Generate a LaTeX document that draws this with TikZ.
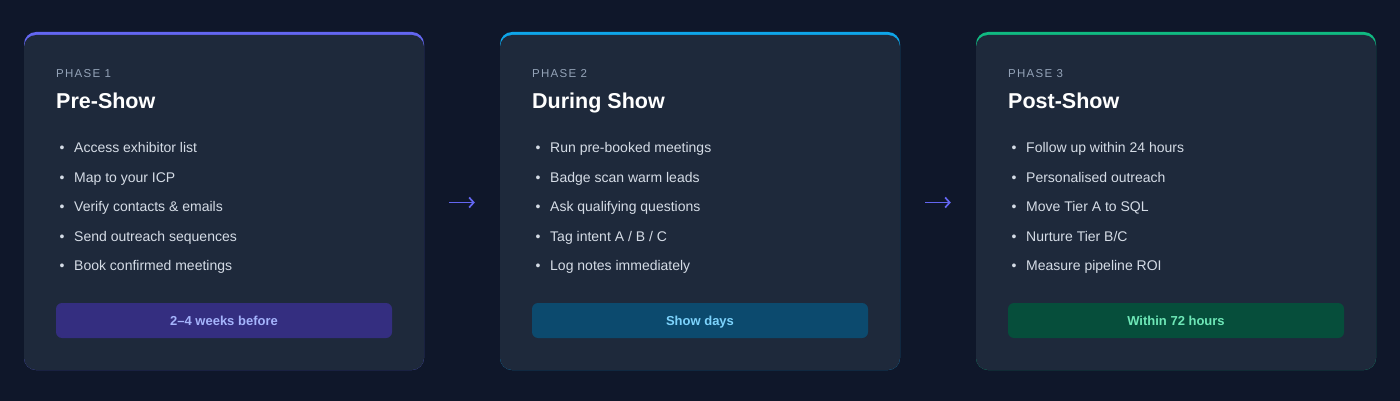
\documentclass[tikz,border=0pt]{standalone}
\usepackage{fontspec}
\setmainfont{Liberation Sans}
\newfontfamily\phasefont[LetterSpace=11]{Liberation Sans}
\usetikzlibrary{arrows.meta}
\definecolor{bgC}{HTML}{0F172A}
\definecolor{cardC}{HTML}{1E293B}
\definecolor{phaseC}{HTML}{94A3B8}
\definecolor{itemC}{HTML}{D5DCE6}
\definecolor{indigoC}{HTML}{6366F1}
\definecolor{skyC}{HTML}{0EA5E9}
\definecolor{emeraldC}{HTML}{10B981}
\definecolor{badgeAbg}{HTML}{342E80}
\definecolor{badgeAfg}{HTML}{A5B4FC}
\definecolor{badgeBbg}{HTML}{0C4A6E}
\definecolor{badgeBfg}{HTML}{7DD3FC}
\definecolor{badgeCbg}{HTML}{064E3B}
\definecolor{badgeCfg}{HTML}{6EE7B7}
\begin{document}
\begin{tikzpicture}[x=1pt,y=-1pt,
  cardtop/.style={rounded corners=12pt, minimum width=400pt, minimum height=338pt, inner sep=0pt, draw=none},
  cardbody/.style={fill=cardC, rounded corners=12pt, minimum width=400pt, minimum height=335pt, inner sep=0pt, draw=none},
  phaselbl/.style={anchor=base west, inner sep=0pt, text=phaseC, font=\phasefont\fontsize{11.5}{13}\selectfont},
  titlelbl/.style={anchor=base west, inner sep=0pt, text=white, font=\bfseries\fontsize{21.5}{26}\selectfont},
  itemlbl/.style={anchor=base west, inner sep=0pt, text=itemC, font=\fontsize{14}{17}\selectfont},
  dotlbl/.style={anchor=base, inner sep=0pt, text=itemC, font=\fontsize{14}{17}\selectfont},
  badge/.style={rounded corners=6pt, minimum width=336pt, minimum height=35pt, inner sep=0pt, text height=9.4pt, text depth=0pt, font=\bfseries\fontsize{13}{15}\selectfont},
  flow/.style={draw=indigoC, line width=1.7pt, -{Straight Barb[length=4.5pt,width=10pt,line width=1.7pt]}, shorten <=25pt, shorten >=25pt}
]
\fill[bgC] (0,0) rectangle (1400,401);
\useasboundingbox (0,0) rectangle (1400,401);

% cards
\foreach \cx/\col/\nm in {224/indigoC/a, 700/skyC/b, 1176/emeraldC/c}{
  \node[cardtop, fill=\col] (top\nm) at (\cx,201) {};
  \node[cardbody] (card\nm) at (\cx,202.5) {};
}

% card 1
\node[phaselbl] (pa) at (56,78) {PHASE 1};
\node[titlelbl] (ta) at (56,108.5) {Pre-Show};
\node[dotlbl] (da1) at (62,153) {•};
\node[itemlbl] (ia1) at (74,153) {Access exhibitor list};
\node[dotlbl] (da2) at (62,182.3) {•};
\node[itemlbl] (ia2) at (74,182.3) {Map to your ICP};
\node[dotlbl] (da3) at (62,211.6) {•};
\node[itemlbl] (ia3) at (74,211.6) {Verify contacts \& emails};
\node[dotlbl] (da4) at (62,241) {•};
\node[itemlbl] (ia4) at (74,241) {Send outreach sequences};
\node[dotlbl] (da5) at (62,270.3) {•};
\node[itemlbl] (ia5) at (74,270.3) {Book confirmed meetings};
\node[badge, fill=badgeAbg, text=badgeAfg] (ba) at (224,320.5) {2–4 weeks before};

% card 2
\node[phaselbl] (pb) at (532,78) {PHASE 2};
\node[titlelbl] (tb) at (532,108.5) {During Show};
\node[dotlbl] (db1) at (538,153) {•};
\node[itemlbl] (ib1) at (550,153) {Run pre-booked meetings};
\node[dotlbl] (db2) at (538,182.3) {•};
\node[itemlbl] (ib2) at (550,182.3) {Badge scan warm leads};
\node[dotlbl] (db3) at (538,211.6) {•};
\node[itemlbl] (ib3) at (550,211.6) {Ask qualifying questions};
\node[dotlbl] (db4) at (538,241) {•};
\node[itemlbl] (ib4) at (550,241) {Tag intent A / B / C};
\node[dotlbl] (db5) at (538,270.3) {•};
\node[itemlbl] (ib5) at (550,270.3) {Log notes immediately};
\node[badge, fill=badgeBbg, text=badgeBfg] (bb) at (700,320.5) {Show days};

% card 3
\node[phaselbl] (pc) at (1008,78) {PHASE 3};
\node[titlelbl] (tc) at (1008,108.5) {Post-Show};
\node[dotlbl] (dc1) at (1014,153) {•};
\node[itemlbl] (ic1) at (1026,153) {Follow up within 24 hours};
\node[dotlbl] (dc2) at (1014,182.3) {•};
\node[itemlbl] (ic2) at (1026,182.3) {Personalised outreach};
\node[dotlbl] (dc3) at (1014,211.6) {•};
\node[itemlbl] (ic3) at (1026,211.6) {Move Tier A to SQL};
\node[dotlbl] (dc4) at (1014,241) {•};
\node[itemlbl] (ic4) at (1026,241) {Nurture Tier B/C};
\node[dotlbl] (dc5) at (1014,270.3) {•};
\node[itemlbl] (ic5) at (1026,270.3) {Measure pipeline ROI};
\node[badge, fill=badgeCbg, text=badgeCfg] (bc) at (1176,320.5) {Within 72 hours};

% connectors
\draw[flow] (carda) -- (cardb);
\draw[flow] (cardb) -- (cardc);
\end{tikzpicture}
\end{document}
